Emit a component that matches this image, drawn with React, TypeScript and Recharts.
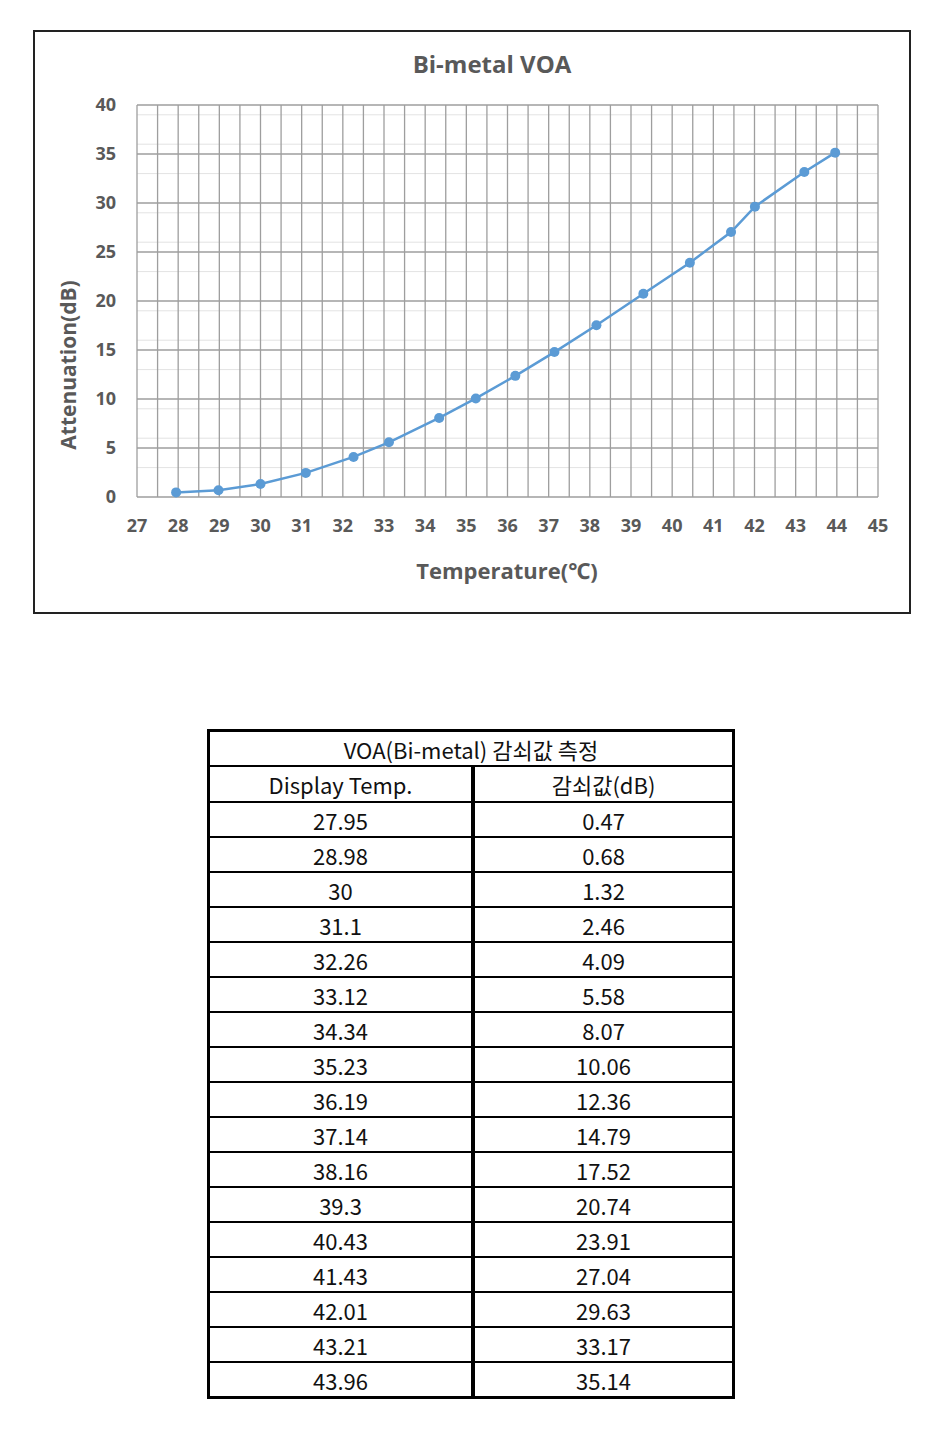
import { CartesianGrid, Line, LineChart, XAxis, YAxis } from "recharts";

const temps = [27.95, 28.98, 30, 31.1, 32.26, 33.12, 34.34, 35.23, 36.19, 37.14, 38.16, 39.3, 40.43, 41.43, 42.01, 43.21, 43.96];
const attenuation = [0.47, 0.68, 1.32, 2.46, 4.09, 5.58, 8.07, 10.06, 12.36, 14.79, 17.52, 20.74, 23.91, 27.04, 29.63, 33.17, 35.14];

// x ticks every 0.5 so the grid gets half lines; only whole numbers get a label
const xTicks = [27, 27.5, 28, 28.5, 29, 29.5, 30, 30.5, 31, 31.5, 32, 32.5, 33, 33.5, 34, 34.5, 35, 35.5, 36, 36.5, 37, 37.5, 38, 38.5, 39, 39.5, 40, 40.5, 41, 41.5, 42, 42.5, 43, 43.5, 44, 44.5, 45];
const yTicks = [0, 5, 10, 15, 20, 25, 30, 35, 40];
const yMinorLines = [1, 2, 3, 4, 6, 7, 8, 9, 11, 12, 13, 14, 16, 17, 18, 19, 21, 22, 23, 24, 26, 27, 28, 29, 31, 32, 33, 34, 36, 37, 38, 39];

const chartTitle = "Bi-metal VOA";
const xTitle = "Temperature(℃)";
const yTitle = "Attenuation(dB)";
const tableTitle = "VOA(Bi-metal) 감쇠값 측정";
const tableHeaders = ["Display Temp.", "감쇠값(dB)"];

const data = temps.map((t, i) => ({ t, v: attenuation[i] }));

const gray = "#595959";
const labelFont = "'Open Sans', 'Noto Sans', sans-serif";
const tableFont = "'Noto Sans CJK KR', 'Noto Sans', sans-serif";

function Row({ cells, first, height }: { cells: string[]; first?: boolean; height: number }) {
  return (
    <div
      style={{
        display: "flex",
        height,
        borderTop: first ? "none" : "2px solid #000",
        boxSizing: "border-box",
      }}
    >
      {cells.length === 1 ? (
        <div style={{ flex: 1, display: "flex", alignItems: "center", justifyContent: "center" }}>{cells[0]}</div>
      ) : (
        <>
          <div
            style={{
              width: 261,
              borderRight: "4px solid #000",
              display: "flex",
              alignItems: "center",
              justifyContent: "center",
            }}
          >
            {cells[0]}
          </div>
          <div style={{ flex: 1, display: "flex", alignItems: "center", justifyContent: "center" }}>{cells[1]}</div>
        </>
      )}
    </div>
  );
}

export default function App() {
  return (
    <div style={{ position: "relative", margin: -8, width: 949, height: 1441, background: "#fff" }}>
      <div style={{ position: "absolute", left: 0, top: 0 }}>
        <LineChart width={949} height={620} data={data} margin={{ top: 105, right: 71, bottom: 93, left: 77 }}>
          <CartesianGrid stroke="#e3e3e3" strokeWidth={1} vertical={false} horizontalValues={yMinorLines} />
          <CartesianGrid stroke="#9e9e9e" strokeWidth={1.3} horizontalValues={yTicks} />
          <XAxis
            type="number"
            dataKey="t"
            domain={[27, 45]}
            ticks={xTicks}
            interval={0}
            tickFormatter={(v: number) => (Number.isInteger(v) ? String(v) : "")}
            axisLine={false}
            tickLine={false}
            tickMargin={16}
            tick={{ fill: gray, fontSize: 18, fontWeight: 700, fontFamily: labelFont }}
            allowDataOverflow
          />
          <YAxis
            type="number"
            domain={[0, 40]}
            ticks={yTicks}
            width={60}
            axisLine={false}
            tickLine={false}
            tickMargin={15}
            tick={{ fill: gray, fontSize: 18, fontWeight: 700, fontFamily: labelFont }}
          />
          <Line
            type="linear"
            dataKey="v"
            stroke="#5b9bd5"
            strokeWidth={2.5}
            dot={{ r: 5, fill: "#5b9bd5", stroke: "#5b9bd5", strokeWidth: 0 }}
            isAnimationActive={false}
          />
        </LineChart>
      </div>

      <div
        style={{
          position: "absolute",
          left: 33,
          top: 30,
          width: 878,
          height: 584,
          border: "2px solid #222",
          boxSizing: "border-box",
          pointerEvents: "none",
        }}
      />
      <div
        style={{
          position: "absolute",
          left: 292,
          top: 48,
          width: 400,
          textAlign: "center",
          color: gray,
          fontFamily: labelFont,
          fontWeight: 700,
          fontSize: 24,
          lineHeight: "32px",
        }}
      >
        {chartTitle}
      </div>
      <div
        style={{
          position: "absolute",
          left: 307,
          top: 554,
          width: 400,
          textAlign: "center",
          color: gray,
          fontFamily: labelFont,
          fontWeight: 700,
          fontSize: 22,
          lineHeight: "32px",
        }}
      >
        {xTitle}
      </div>
      <div
        style={{
          position: "absolute",
          left: 68 - 150,
          top: 365 - 16,
          width: 300,
          textAlign: "center",
          color: gray,
          fontFamily: labelFont,
          fontWeight: 700,
          fontSize: 21,
          lineHeight: "32px",
          transform: "rotate(-90deg)",
        }}
      >
        {yTitle}
      </div>

      <div
        style={{
          position: "absolute",
          left: 207,
          top: 729,
          width: 528,
          border: "3px solid #000",
          boxSizing: "border-box",
          fontFamily: tableFont,
          fontSize: 22,
          color: "#111",
        }}
      >
        <Row cells={[tableTitle]} first height={33} />
        <Row cells={tableHeaders} height={36} />
        {temps.map((t, i) => (
          <Row key={i} cells={[String(t), String(attenuation[i])]} height={35} />
        ))}
      </div>
    </div>
  );
}
